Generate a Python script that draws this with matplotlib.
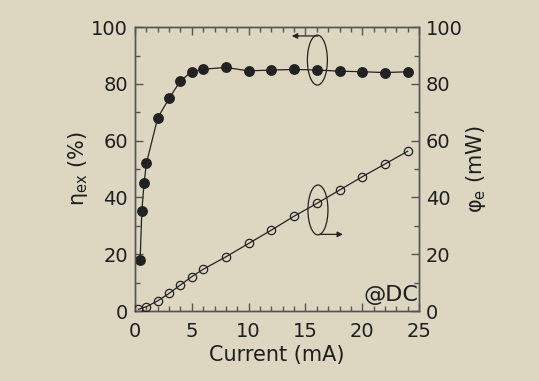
import matplotlib
matplotlib.use("Agg")
import matplotlib.pyplot as plt
from matplotlib.patches import Ellipse
from matplotlib.ticker import MultipleLocator

plt.rcParams['font.family'] = ['DejaVu Sans']
plt.rcParams['mathtext.default'] = 'regular'

# external quantum efficiency (filled circles, left axis)
current_eta = [0.45, 0.6, 0.8, 1, 2, 3, 4, 5, 6, 8, 10, 12, 14, 16, 18, 20, 22, 24]
eta_ex = [18, 35.3, 45.2, 52, 68.1, 74.9, 81.1, 84.3, 85.2, 85.8, 84.6, 84.9, 85.1, 84.9, 84.5, 84.3, 84.0, 84.3]

# output power (open circles, right axis)
current_phi = [0.3, 1, 2, 3, 4, 5, 6, 8, 10, 12, 14, 16, 18, 20, 22, 24]
phi_e = [0.6, 1.5, 3.6, 6.2, 9.2, 12.1, 14.7, 19.1, 23.8, 28.5, 33.4, 37.9, 42.6, 47.3, 51.8, 56.3]

bg = '#ddd6c1'
ink = '#222222'
spine = '#555555'
txt = '#1e1e1e'

fig = plt.figure(figsize=(5.39, 3.81), dpi=100, facecolor=bg)
ax = fig.add_axes([0.2505, 0.1837, 0.527, 0.745], facecolor=bg)
ax2 = ax.twinx()

ax.plot(current_eta, eta_ex, color=ink, lw=0.9, marker='o', ms=6.8,
        mfc=ink, mec=ink, zorder=3)
ax2.plot(current_phi, phi_e, color=ink, lw=0.9, marker='o', ms=6,
         mfc='none', mec=ink, mew=0.9, zorder=3)

ax.set_xlim(0, 25)
ax.set_ylim(0, 100)
ax2.set_ylim(0, 100)
ax.xaxis.set_major_locator(MultipleLocator(5))
ax.xaxis.set_minor_locator(MultipleLocator(1))
for a in (ax, ax2):
    a.yaxis.set_major_locator(MultipleLocator(20))
    a.yaxis.set_minor_locator(MultipleLocator(10))
    for s in a.spines.values():
        s.set_color(spine)
        s.set_linewidth(1.0)

ax.tick_params(which='both', direction='in', top=True, colors=spine,
               labelcolor=txt, labelsize=14)
ax.tick_params(axis='y', pad=5)
ax.tick_params(axis='x', pad=8)
ax.tick_params(which='major', length=6, width=1)
ax.tick_params(which='minor', length=3.5, width=1)
ax2.tick_params(which='both', direction='in', colors=spine,
                labelcolor=txt, labelsize=14, pad=5)
ax2.tick_params(which='major', length=6, width=1)
ax2.tick_params(which='minor', length=3.5, width=1)

ax.set_xlabel('Current (mA)', fontsize=15, color=txt, labelpad=3)
ax.set_ylabel('η$_{ex}$ (%)', fontsize=15, color=txt, labelpad=1)
ax2.set_ylabel('φ$_{e}$ (mW)', fontsize=15, color=txt, labelpad=1,
               rotation=90)

# ellipses and arrows marking which axis each curve uses
ax.add_patch(Ellipse((16.05, 88.4), 1.76, 17.6, fill=False, ec=ink, lw=0.9, zorder=4))
ax.annotate('', xy=(13.8, 96.9), xytext=(16.1, 96.9),
            arrowprops=dict(arrowstyle='-|>', color=ink, lw=0.9,
                            mutation_scale=8, shrinkA=0, shrinkB=0))
ax.add_patch(Ellipse((16.1, 35.6), 1.76, 17.6, fill=False, ec=ink, lw=0.9, zorder=4))
ax.annotate('', xy=(18.3, 27.0), xytext=(16.2, 27.0),
            arrowprops=dict(arrowstyle='-|>', color=ink, lw=0.9,
                            mutation_scale=8, shrinkA=0, shrinkB=0))

ax.text(24.9, 5.8, '@DC', fontsize=16, color=txt, ha='right', va='center')

fig.savefig('out.png', dpi=100, facecolor=bg)
